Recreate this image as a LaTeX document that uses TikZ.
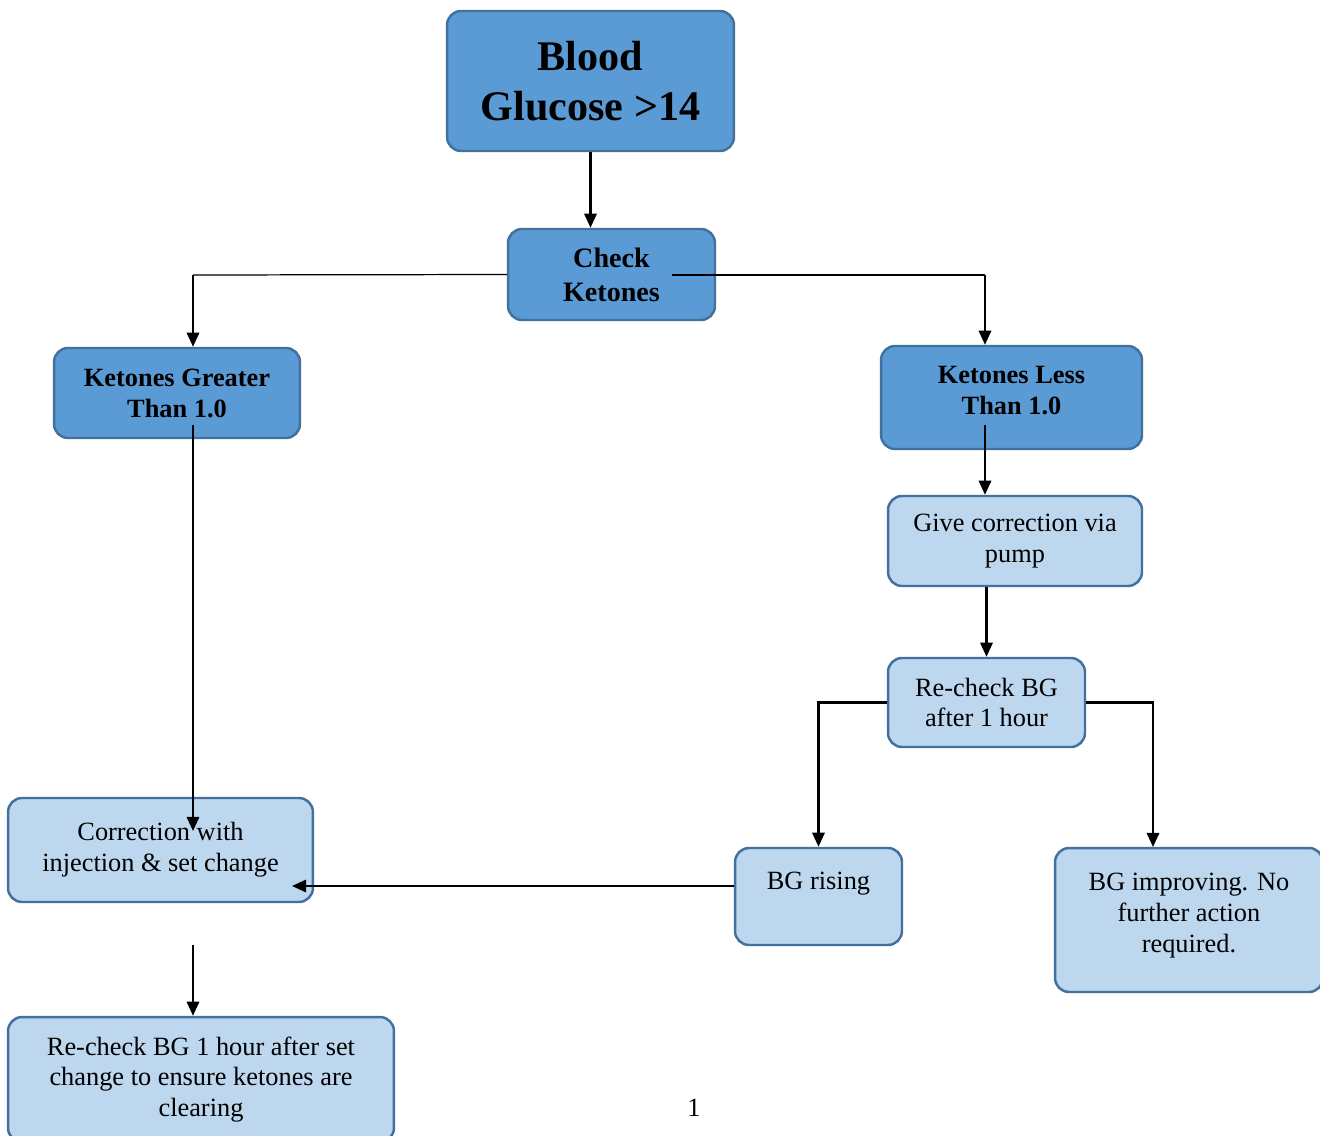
\documentclass[tikz,border=0pt]{standalone}
\usepackage{fontspec}
\setmainfont{Liberation Serif}
\usepackage{xcolor}
\usepackage{tikz}
\usetikzlibrary{positioning, calc, arrows.meta}

\definecolor{darkblue}{HTML}{5B9BD5}
\definecolor{lightblue}{HTML}{BDD7EE}
\definecolor{edgeblue}{HTML}{41719C}

\begin{document}
\begin{tikzpicture}[
  x=0.02cm, y=-0.02cm,
  every node/.style={align=center},
  box/.style={rectangle, rounded corners=8pt, draw=edgeblue, line width=1.4pt,
              inner sep=2pt},
  headbox/.style={box, fill=darkblue, font=\bfseries\fontsize{15}{17.6}\selectfont},
  stepbox/.style={box, fill=lightblue, font=\fontsize{15}{17.6}\selectfont},
  flow/.style={-{Triangle[length=8pt,width=7pt]}, line width=1.3pt, draw=black},
  split/.style={line width=0.7pt, draw=black}
]
\useasboundingbox (0,0) rectangle (1320,1136);

% --- Top of the chart ---
\node[headbox, minimum width=5.74cm, minimum height=2.8cm,
      font=\bfseries\fontsize{24}{28.5}\selectfont] (blood) at (590.5,81) {Blood\\Glucose >14};
\node[headbox, minimum width=4.14cm, minimum height=1.82cm,
      font=\bfseries\fontsize{16}{19.4}\selectfont] (check) at (611.5,274.5) {Check\\Ketones};

% --- Ketone branches ---
\node[headbox, minimum width=4.92cm, minimum height=1.8cm] (greater) at (177,393) {Ketones Greater\\Than 1.0};
\node[headbox, minimum width=5.22cm, minimum height=2.06cm, text depth=8pt] (less) at (1011.5,397.5) {Ketones Less\\Than 1.0};

% --- Steps ---
\node[stepbox, minimum width=5.08cm, minimum height=1.8cm] (give) at (1015,541) {Give correction via\\pump};
\node[stepbox, minimum width=3.94cm, minimum height=1.78cm] (recheck) at (986.5,702.5) {Re-check BG\\after 1 hour};
\node[stepbox, minimum width=6.1cm, minimum height=2.08cm] (correction) at (160.5,850) {Correction with\\injection \& set change};
\node[stepbox, minimum width=3.34cm, minimum height=1.94cm] (rising) at (818.5,896.5) {BG rising\\\mbox{}};
\node[stepbox, minimum width=5.36cm, minimum height=2.88cm, text depth=8pt] (improving) at (1189,920) {BG improving. No\\further action\\required.};
\node[stepbox, minimum width=7.72cm, minimum height=2.5cm] (recheckset) at (201,1079.5) {Re-check BG 1 hour after set\\change to ensure ketones are\\clearing};

% --- Page number ---
\node[font=\fontsize{15}{17}\selectfont] (pagenum) at (694,1108) {1};

% --- Connector points ---
\coordinate (lsplit) at (193,275);
\coordinate (rstart) at (672,275);
\coordinate (rsplit) at (985,275);
\coordinate (gout) at (193,425);
\coordinate (cin) at (193,831);
\coordinate (lout) at (985,425);
\coordinate (impin) at (1153,847);
\coordinate (corrin) at (292,886);
\coordinate (corrout) at (193,945);

% --- Arrows ---
\draw[flow] (blood.south) -- (blood.south |- check.north);
\draw[split] (check.west) -- (lsplit);
\draw[flow] (lsplit) -- (lsplit |- greater.north);
\draw[split] (rstart) -- (rsplit);
\draw[flow] (rsplit) -- (rsplit |- less.north);

\draw[flow] (gout) -- (cin);
\draw[flow] (lout) -- (lout |- give.north);
\draw[flow] (give.south -| recheck.north) -- (recheck.north);
\draw[flow] (recheck.west) -| (rising.north);
\draw[flow] (recheck.east) -| (impin);
\draw[flow] (rising.west |- corrin) -- (corrin);
\draw[flow] (corrout) -- (corrout |- recheckset.north);

\end{tikzpicture}
\end{document}
